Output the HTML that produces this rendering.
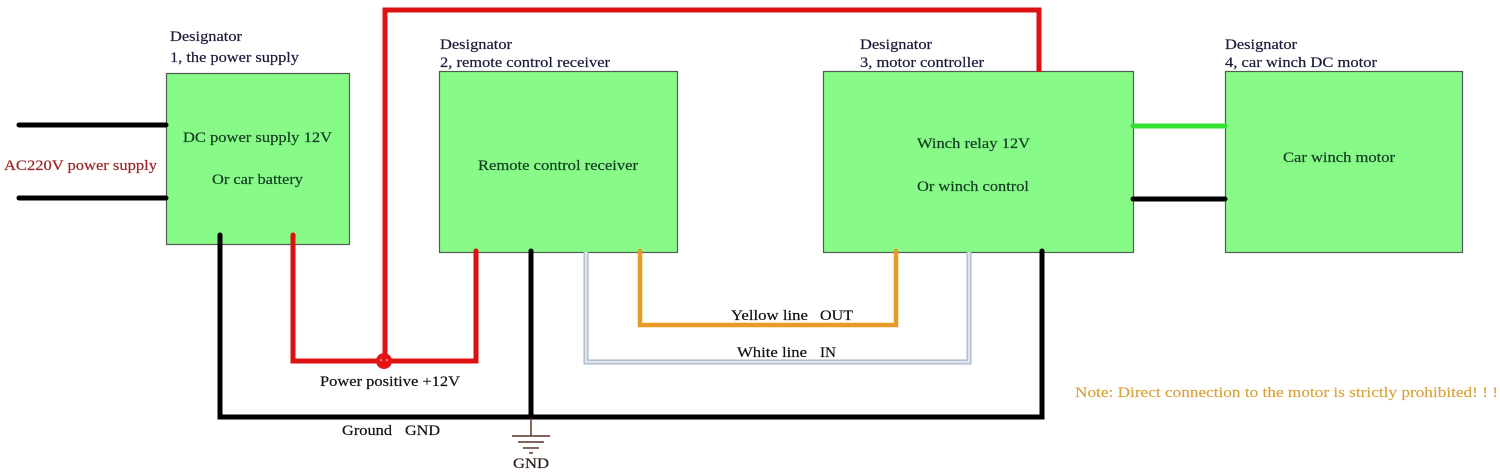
<!DOCTYPE html>
<html>
<head>
<meta charset="utf-8">
<style>
  html,body{margin:0;padding:0;background:#fff;}
  svg{display:block;}
  text{font-family:"Liberation Serif","Times New Roman",serif;font-size:15px;}
</style>
</head>
<body>
<svg width="1500" height="475" viewBox="0 0 1500 475" xmlns="http://www.w3.org/2000/svg">
  <rect width="1500" height="475" fill="#ffffff"/>

  <!-- Boxes -->
  <rect x="166.5" y="73.5" width="183" height="171" fill="#88fa88" stroke="#4d5f4d" stroke-width="1.2"/>
  <rect x="439.5" y="71.5" width="238" height="181" fill="#88fa88" stroke="#4d5f4d" stroke-width="1.2"/>
  <rect x="823.5" y="71.5" width="310" height="181" fill="#88fa88" stroke="#4d5f4d" stroke-width="1.2"/>
  <rect x="1225.5" y="71.5" width="237" height="181" fill="#88fa88" stroke="#4d5f4d" stroke-width="1.2"/>

  <!-- Left AC wires -->
  <line x1="19" y1="125" x2="166" y2="125" stroke="#000" stroke-width="5" stroke-linecap="round"/>
  <line x1="19" y1="198" x2="166" y2="198" stroke="#000" stroke-width="5" stroke-linecap="round"/>

  <!-- Box3 to Box4 wires -->
  <line x1="1133" y1="126" x2="1225" y2="126" stroke="#33e033" stroke-width="5" stroke-linecap="round"/>
  <line x1="1133" y1="199" x2="1225" y2="199" stroke="#000" stroke-width="5" stroke-linecap="round"/>

  <!-- Ground wiring (black) -->
  <polyline points="220,235 220,417 1042,417 1042,251" fill="none" stroke="#000" stroke-width="5" stroke-linejoin="miter" stroke-linecap="round"/>
  <line x1="531" y1="251" x2="531" y2="417" stroke="#000" stroke-width="5" stroke-linecap="round"/>

  <!-- Ground symbol -->
  <line x1="531" y1="418" x2="531" y2="436" stroke="#5a3526" stroke-width="1.5"/>
  <line x1="512" y1="436" x2="550" y2="436" stroke="#5a3526" stroke-width="1.5"/>
  <line x1="518" y1="442" x2="544" y2="442" stroke="#5a3526" stroke-width="1.5"/>
  <line x1="523" y1="448" x2="539" y2="448" stroke="#5a3526" stroke-width="1.5"/>
  <line x1="529" y1="453" x2="533" y2="453" stroke="#5a3526" stroke-width="1.5"/>

  <!-- White line IN -->
  <polyline points="586,252 586,362 969,362 969,252" fill="none" stroke="#aab4c8" stroke-width="5"/>
  <polyline points="586,252 586,362 969,362 969,252" fill="none" stroke="#dfe5ef" stroke-width="2.5"/>

  <!-- Yellow line OUT -->
  <polyline points="640,251 640,325 896,325 896,251" fill="none" stroke="#e89a25" stroke-width="4.5" stroke-linecap="round"/>

  <!-- Red power wires -->
  <polyline points="293,235 293,361 476,361 476,251" fill="none" stroke="#dd1111" stroke-width="5" stroke-linecap="round"/>
  <polyline points="385,361 385,10 1039,10 1039,72" fill="none" stroke="#dd1111" stroke-width="5" stroke-linejoin="miter"/>
  <circle cx="384" cy="361" r="8" fill="#e41414"/>
  <circle cx="381" cy="360" r="1.3" fill="#f07070"/>
  <circle cx="387" cy="360" r="1.3" fill="#f07070"/>

  <!-- Designator labels -->
  <g fill="#1a1a3a" stroke="#1a1a3a" stroke-width="0.2">
    <text x="170" y="41" textLength="72" lengthAdjust="spacingAndGlyphs">Designator</text>
    <text x="170" y="62" textLength="129" lengthAdjust="spacingAndGlyphs">1, the power supply</text>
    <text x="440" y="49" textLength="72" lengthAdjust="spacingAndGlyphs">Designator</text>
    <text x="440" y="67" textLength="170" lengthAdjust="spacingAndGlyphs">2, remote control receiver</text>
    <text x="860" y="49" textLength="72" lengthAdjust="spacingAndGlyphs">Designator</text>
    <text x="860" y="67" textLength="124" lengthAdjust="spacingAndGlyphs">3, motor controller</text>
    <text x="1225" y="49" textLength="72" lengthAdjust="spacingAndGlyphs">Designator</text>
    <text x="1225" y="67" textLength="152" lengthAdjust="spacingAndGlyphs">4, car winch DC motor</text>
  </g>

  <!-- Box texts -->
  <g fill="#123d22" stroke="#123d22" stroke-width="0.2">
    <text x="183" y="142" textLength="149" lengthAdjust="spacingAndGlyphs">DC power supply 12V</text>
    <text x="212" y="184" textLength="91" lengthAdjust="spacingAndGlyphs">Or car battery</text>
    <text x="478" y="170" textLength="160" lengthAdjust="spacingAndGlyphs">Remote control receiver</text>
    <text x="917" y="148" textLength="113" lengthAdjust="spacingAndGlyphs">Winch relay 12V</text>
    <text x="917" y="191" textLength="112" lengthAdjust="spacingAndGlyphs">Or winch control</text>
    <text x="1283" y="162" textLength="112" lengthAdjust="spacingAndGlyphs">Car winch motor</text>
  </g>

  <!-- AC label -->
  <text x="4" y="170" fill="#9a2424" stroke="#9a2424" stroke-width="0.2" textLength="153" lengthAdjust="spacingAndGlyphs">AC220V power supply</text>

  <!-- Wire labels -->
  <g fill="#111" stroke="#111" stroke-width="0.2">
    <text x="320" y="386" textLength="140" lengthAdjust="spacingAndGlyphs">Power positive +12V</text>
    <text x="342" y="435" textLength="50" lengthAdjust="spacingAndGlyphs">Ground</text>
    <text x="405" y="435" textLength="35" lengthAdjust="spacingAndGlyphs">GND</text>
    <text x="731" y="320" textLength="77" lengthAdjust="spacingAndGlyphs">Yellow line</text>
    <text x="820" y="320" textLength="33" lengthAdjust="spacingAndGlyphs">OUT</text>
    <text x="737" y="357" textLength="70" lengthAdjust="spacingAndGlyphs">White line</text>
    <text x="820" y="357" textLength="16" lengthAdjust="spacingAndGlyphs">IN</text>
    <text x="513" y="468" textLength="36" lengthAdjust="spacingAndGlyphs" fill="#2a1a14" stroke="#2a1a14">GND</text>
  </g>

  <!-- Note -->
  <text x="1075" y="397" fill="#d9a23a" stroke="#d9a23a" stroke-width="0.15" textLength="423" lengthAdjust="spacingAndGlyphs">Note: Direct connection to the motor is strictly prohibited!  !  !</text>
</svg>
</body>
</html>
